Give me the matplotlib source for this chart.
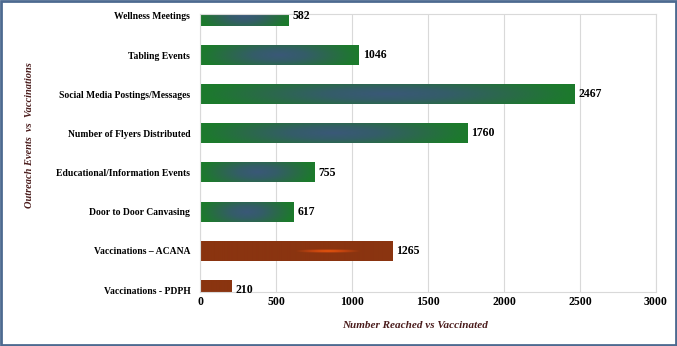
import numpy as np
import matplotlib
matplotlib.use("Agg")
import matplotlib.pyplot as plt
from matplotlib.colors import LinearSegmentedColormap
from matplotlib.patches import Rectangle

categories = ["Vaccinations - PDPH", "Vaccinations \u2013 ACANA", "Door to Door Canvasing",
              "Educational/Information Events", "Number of Flyers Distributed",
              "Social Media Postings/Messages", "Tabling Events", "Wellness Meetings"]
values = [210, 1265, 617, 755, 1760, 2467, 1046, 582]
is_vacc = [True, True, False, False, False, False, False, False]
xticks = [0, 500, 1000, 1500, 2000, 2500, 3000]

plt.rcParams['font.family'] = ['Liberation Serif', 'DejaVu Serif']

green_cmap = LinearSegmentedColormap.from_list("g", ["#3a5878", "#345d68", "#2a6a48", "#1c7a2c"])
brown_cmap = LinearSegmentedColormap.from_list("b", ["#f45c0c", "#c8460f", "#8a3410", "#8a3410"])

fig = plt.figure(figsize=(6.77, 3.46), dpi=100)
fig.patch.set_facecolor("white")
ax = fig.add_axes([200/677, 54/346, 456/677, 278/346])

h = 0.5
for i, v in enumerate(values):
    xs = np.linspace(0, v, 300)
    ys = np.linspace(-1, 1, 40)
    X, Y = np.meshgrid(xs, ys)
    if is_vacc[i]:
        # glow sits at a fixed spot along the axis, so only the long bar shows it
        d = np.sqrt(((X - 840) / 330) ** 2 + (Y / 0.3) ** 2)
        cmap = brown_cmap
    else:
        d = np.sqrt(((X / v - 0.5) / 0.5) ** 2 + (Y / 1.8) ** 2)
        cmap = green_cmap
    d = np.clip(d, 0, 1)
    ax.imshow(d, cmap=cmap, vmin=0, vmax=1, aspect="auto",
              extent=[0, v, i - h/2, i + h/2], zorder=2, interpolation="bilinear")
    ax.text(v + 25, i, str(v), va="center", ha="left", fontsize=8.5,
            fontweight="bold", color="black", zorder=3)

ax.set_xlim(0, 3000)
ax.set_ylim(-0.05, 7.05)
ax.set_xticks(xticks)
ax.set_xticklabels([str(t) for t in xticks], fontsize=8.5, fontweight="bold")
ax.set_yticks(range(len(categories)))
ax.set_yticklabels(categories, fontsize=6.9, fontweight="bold")
ax.tick_params(length=0)
ax.tick_params(axis="x", pad=3)
ax.tick_params(axis="y", pad=7)
ax.grid(axis="x", color="#d9d9d9", linewidth=0.8, zorder=0)
ax.set_axisbelow(True)
for s in ax.spines.values():
    s.set_color("#d9d9d9")
    s.set_linewidth(0.8)

fig.text(415/677, 1 - 326/346, "Number Reached vs Vaccinated", ha="center", va="center",
         fontsize=8, fontweight="bold", fontstyle="italic", color="#4a1c1c")
fig.text(30/677, 1 - 135/346, "Outreach Events  vs  Vaccinations", ha="center", va="center",
         rotation=90, fontsize=7.5, fontweight="bold", fontstyle="italic", color="#4a1c1c")

fig.patches.append(Rectangle((0.002, 0.004), 0.996, 0.992, transform=fig.transFigure,
                             fill=False, edgecolor="#4d6a90", linewidth=2))

fig.savefig("out.png", dpi=100, facecolor="white")
